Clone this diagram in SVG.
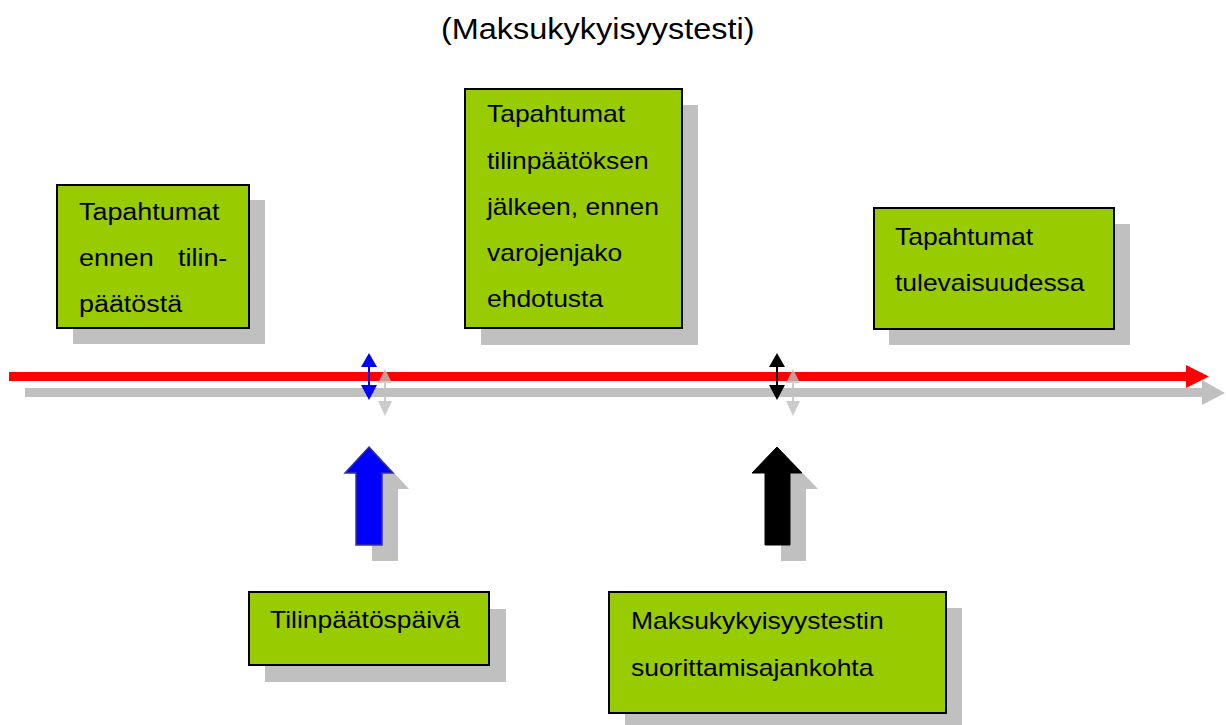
<svg xmlns="http://www.w3.org/2000/svg" width="1226" height="725" viewBox="0 0 1226 725">
<style>
.box{fill:#99CC00;stroke:#000;stroke-width:2}
.sh{fill:#C0C0C0}
.t{font-family:"Liberation Sans",Arial,sans-serif;font-size:23px;fill:#000}
.title{font-family:"Liberation Sans",Arial,sans-serif;font-size:29.5px;fill:#000}
</style>
<rect width="1226" height="725" fill="#fff"/>
<text class="title" transform="translate(441,39) scale(1.10,1)">(Maksukykyisyystesti)</text>

<g id="connectors">
  <line x1="25" y1="392.5" x2="1204" y2="392.5" stroke="#C0C0C0" stroke-width="9"/>
  <polygon points="1202,380 1225,393 1202,405" fill="#C0C0C0"/>
  <line x1="9" y1="376.5" x2="1188" y2="376.5" stroke="#FF0000" stroke-width="9"/>
  <polygon points="1186,365 1209,376.5 1186,388" fill="#FF0000"/>
  <g opacity="0.8" fill="#C0C0C0" stroke="#C0C0C0">
    <line x1="385" y1="380" x2="385" y2="404" stroke-width="2"/>
    <polygon points="385,369 392,383 378,383" stroke="none"/>
    <polygon points="385,416 392,401 378,401" stroke="none"/>
    <line x1="793" y1="380" x2="793" y2="404" stroke-width="2"/>
    <polygon points="793,369 800,383 786,383" stroke="none"/>
    <polygon points="793,416 800,401 786,401" stroke="none"/>
  </g>
  <g fill="#0000FF" stroke="#0000FF">
    <line x1="369" y1="364" x2="369" y2="388" stroke-width="2"/>
    <polygon points="369,353 377,367 361,367" stroke="none"/>
    <polygon points="369,400 377,385 361,385" stroke="none"/>
  </g>
  <g fill="#000" stroke="#000">
    <line x1="777" y1="364" x2="777" y2="388" stroke-width="2"/>
    <polygon points="777,353 785,367 769,367" stroke="none"/>
    <polygon points="777,400 785,385 769,385" stroke="none"/>
  </g>
</g>

<g id="arrow-blue">
  <polygon class="sh" points="385,463 409,489 398,489 398,561 372,561 372,489 361,489"/>
  <polygon points="369,447 393,473 382,473 382,545 356,545 356,473 345,473" fill="#0000FF" stroke="#333399" stroke-width="1.5"/>
</g>
<g id="arrow-black">
  <polygon class="sh" points="793,463 818,489 806,489 806,561 781,561 781,489 768,489"/>
  <polygon points="777,447 802,473 790,473 790,545 765,545 765,473 752,473" fill="#000" stroke="#000" stroke-width="1"/>
</g>

<g id="node-ennen">
  <rect class="sh" x="73" y="200" width="192" height="144"/>
  <rect class="box" x="57" y="185" width="192" height="143"/>
  <text class="t" transform="translate(79,220) scale(1.17,1)">Tapahtumat</text>
  <text class="t" transform="translate(79,266) scale(1.17,1)">ennen</text>
  <text class="t" transform="translate(178,266) scale(1.17,1)">tilin-</text>
  <text class="t" transform="translate(79,312) scale(1.17,1)">päätöstä</text>
</g>

<g id="node-jalkeen">
  <rect class="sh" x="481" y="105" width="217" height="240"/>
  <rect class="box" x="465" y="89" width="217" height="239"/>
  <text class="t" transform="translate(487,122) scale(1.15,1)">Tapahtumat</text>
  <text class="t" transform="translate(487,169) scale(1.15,1)">tilinpäätöksen</text>
  <text class="t" transform="translate(487,215) scale(1.15,1)">jälkeen, ennen</text>
  <text class="t" transform="translate(487,261) scale(1.15,1)">varojenjako</text>
  <text class="t" transform="translate(487,307) scale(1.15,1)">ehdotusta</text>
</g>

<g id="node-tulevaisuus">
  <rect class="sh" x="889" y="224" width="241" height="121"/>
  <rect class="box" x="874" y="208" width="240" height="121"/>
  <text class="t" transform="translate(895,245) scale(1.15,1)">Tapahtumat</text>
  <text class="t" transform="translate(895,291) scale(1.15,1)">tulevaisuudessa</text>
</g>

<g id="node-tilinpaatospaiva">
  <rect class="sh" x="265" y="609" width="241" height="73"/>
  <rect class="box" x="249" y="592" width="240" height="73"/>
  <text class="t" transform="translate(270,628) scale(1.15,1)">Tilinpäätöspäivä</text>
</g>

<g id="node-maksukyky">
  <rect class="sh" x="625" y="608" width="337" height="117"/>
  <rect class="box" x="609" y="592" width="337" height="121"/>
  <text class="t" transform="translate(631,629) scale(1.15,1)">Maksukykyisyystestin</text>
  <text class="t" transform="translate(631,676) scale(1.15,1)">suorittamisajankohta</text>
</g>
</svg>
